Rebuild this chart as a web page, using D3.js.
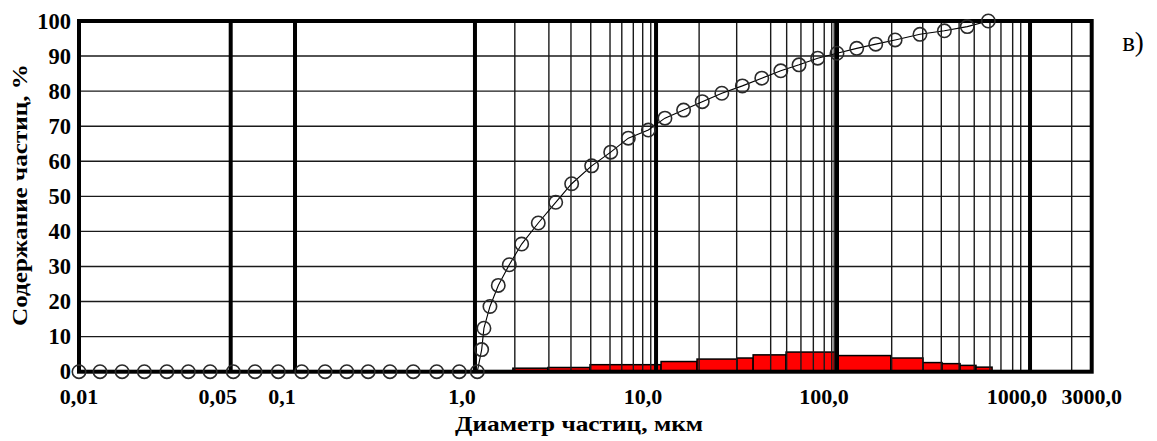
<!DOCTYPE html>
<html>
<head>
<meta charset="utf-8">
<script src="https://cdn.jsdelivr.net/npm/d3@7"></script>
<style>
  html, body { margin: 0; padding: 0; background: #fff; }
  svg { display: block; }
</style>
</head>
<body>
<svg id="chart" width="1157" height="441"></svg>
<script>
// ---------- data ----------
const xTickValues = [0.01, 0.05, 0.1, 1, 10, 100, 1000, 3000];
const xTickLabels = ["0,01", "0,05", "0,1", "1,0", "10,0", "100,0", "1000,0", "3000,0"];
const yTicks = [0, 10, 20, 30, 40, 50, 60, 70, 80, 90, 100];
const majorLines = [0.05, 0.1, 1, 10, 100, 1000];
const minorLines = [1.66, 2.56, 3.39, 4.36, 5.57, 6.47, 7.49, 8.44, 9.35,
                    17.3, 27.9, 43.0, 52.7, 63.2, 74.0, 85.0, 93.5, 96.5,
                    192, 278, 347, 429, 514, 620, 707, 813, 895, 2100];

// cumulative curve
const diam = [0.01, 0.0125, 0.0158, 0.02, 0.0254, 0.0319, 0.0402, 0.0514, 0.065, 0.0835,
              0.109, 0.147, 0.194, 0.255, 0.337, 0.454, 0.613, 0.818, 1.03,
              1.089, 1.121, 1.21, 1.345, 1.547, 1.811, 2.237, 2.792, 3.42, 4.41,
              5.62, 7.03, 9.07, 11.2, 14.2, 18.0, 23.1, 30.0, 38.4, 48.9,
              61.7, 78.2, 100, 126.5, 158.7, 200, 269, 360, 473, 608];
const cumPct = [0, 0, 0, 0, 0, 0, 0, 0, 0, 0,
                0, 0, 0, 0, 0, 0, 0, 0, 0,
                6.3, 12.4, 18.6, 24.6, 30.5, 36.4, 42.4, 48.3, 53.6, 58.7,
                62.6, 66.6, 68.9, 72.3, 74.6, 77.0, 79.4, 81.5, 83.7, 85.8,
                87.5, 89.4, 90.8, 92.2, 93.4, 94.6, 96.2, 97.2, 98.4, 100];

// differential histogram
const binLo  = [1.62, 2.53, 4.32, 10.66, 16.85, 28, 34.4, 52.3, 100, 190, 279, 350, 434, 525];
const binHi  = [2.53, 4.32, 10.66, 16.85, 28, 34.4, 52.3, 100, 190, 279, 350, 434, 525, 636];
const binPct = [1.0, 1.2, 2.0, 2.9, 3.6, 3.9, 4.8, 5.6, 4.6, 3.9, 2.6, 2.3, 1.8, 1.3];

// ---------- layout ----------
const pLeft = 79, pRight = 1091.7, pTop = 21, pBottom = 371.7;
const plotW = pRight - pLeft;
// fraction of the plot width at each labelled break of the (segmented log) axis
const breakFrac = [0, 0.1498, 0.2133, 0.3910, 0.5698, 0.7485, 0.9391, 1];

const xLin = d3.scaleLinear()
  .domain(xTickValues.map(Math.log10))
  .range(breakFrac.map(f => pLeft + f * plotW));
const x = d => xLin(Math.log10(d));
const y = d3.scaleLinear().domain([0, 100]).range([pBottom, pTop]);

const svg = d3.select("#chart");
const FONT = "'Liberation Serif', 'Times New Roman', serif";

// bars
svg.append("g").selectAll("rect").data(binPct).join("rect")
  .attr("x", (d, i) => x(binLo[i]))
  .attr("width", (d, i) => x(binHi[i]) - x(binLo[i]))
  .attr("y", d => y(d))
  .attr("height", d => y(0) - y(d))
  .attr("fill", "#ff0000")
  .attr("stroke", "#000")
  .attr("stroke-width", 1.5);

// horizontal grid
svg.append("g").selectAll("line").data(yTicks.filter(v => v > 0 && v < 100)).join("line")
  .attr("x1", pLeft).attr("x2", pRight)
  .attr("y1", d => y(d)).attr("y2", d => y(d))
  .attr("stroke", "#1a1a1a").attr("stroke-width", 1.4);

// minor vertical grid
svg.append("g").selectAll("line").data(minorLines).join("line")
  .attr("x1", d => x(d)).attr("x2", d => x(d))
  .attr("y1", pTop).attr("y2", pBottom)
  .attr("stroke", "#1a1a1a").attr("stroke-width", 1.4);

// major vertical lines
svg.append("g").selectAll("line").data(majorLines).join("line")
  .attr("x1", d => x(d)).attr("x2", d => x(d))
  .attr("y1", pTop).attr("y2", pBottom)
  .attr("stroke", "#000").attr("stroke-width", 4);

// cumulative curve
const pts = diam.map((d, i) => [d, cumPct[i]]);
svg.append("path")
  .datum(pts)
  .attr("fill", "none")
  .attr("stroke", "#000")
  .attr("stroke-width", 1.1)
  .attr("d", d3.line().x(p => x(p[0])).y(p => y(p[1])));

// frame
svg.append("rect")
  .attr("x", pLeft).attr("y", pTop)
  .attr("width", plotW).attr("height", pBottom - pTop)
  .attr("fill", "none").attr("stroke", "#000").attr("stroke-width", 4);

// circles
svg.append("g").selectAll("circle").data(pts).join("circle")
  .attr("cx", p => x(p[0]))
  .attr("cy", p => y(p[1]))
  .attr("r", 6.7)
  .attr("fill", "none")
  .attr("stroke", "#2a2a2a")
  .attr("stroke-width", 1.6);

// y axis labels
const yAxis = svg.append("g")
  .attr("transform", `translate(${pLeft},0)`)
  .call(d3.axisLeft(y).tickValues(yTicks).tickSize(0).tickPadding(8));
yAxis.select(".domain").remove();
yAxis.selectAll("text")
  .attr("font-family", FONT).attr("font-weight", "bold")
  .attr("font-size", 22.5).attr("fill", "#000");

// x tick labels
const nT = xTickValues.length;
svg.append("g").selectAll("text").data(xTickValues).join("text")
  .attr("x", (d, i) => x(d) + ((i === 0 || i === nT - 1) ? 0 : -13))
  .attr("y", 403.5)
  .attr("text-anchor", "middle")
  .attr("font-family", FONT).attr("font-weight", "bold")
  .attr("font-size", 22).attr("fill", "#000")
  .text((d, i) => xTickLabels[i]);

// axis titles
svg.append("text")
  .attr("x", 579).attr("y", 430.5)
  .attr("text-anchor", "middle")
  .attr("font-family", FONT).attr("font-weight", "bold")
  .attr("font-size", 21).attr("fill", "#000")
  .attr("textLength", 248).attr("lengthAdjust", "spacingAndGlyphs")
  .text("Диаметр частиц, мкм");

svg.append("text")
  .attr("transform", "translate(27,195) rotate(-90)")
  .attr("text-anchor", "middle")
  .attr("font-family", FONT).attr("font-weight", "bold")
  .attr("font-size", 21).attr("fill", "#000")
  .attr("textLength", 262).attr("lengthAdjust", "spacingAndGlyphs")
  .text("Содержание частиц, %");

svg.append("text")
  .attr("x", 1133).attr("y", 51)
  .attr("text-anchor", "middle")
  .attr("font-family", FONT)
  .attr("font-size", 27).attr("fill", "#000")
  .text("в)");
</script>
</body>
</html>
